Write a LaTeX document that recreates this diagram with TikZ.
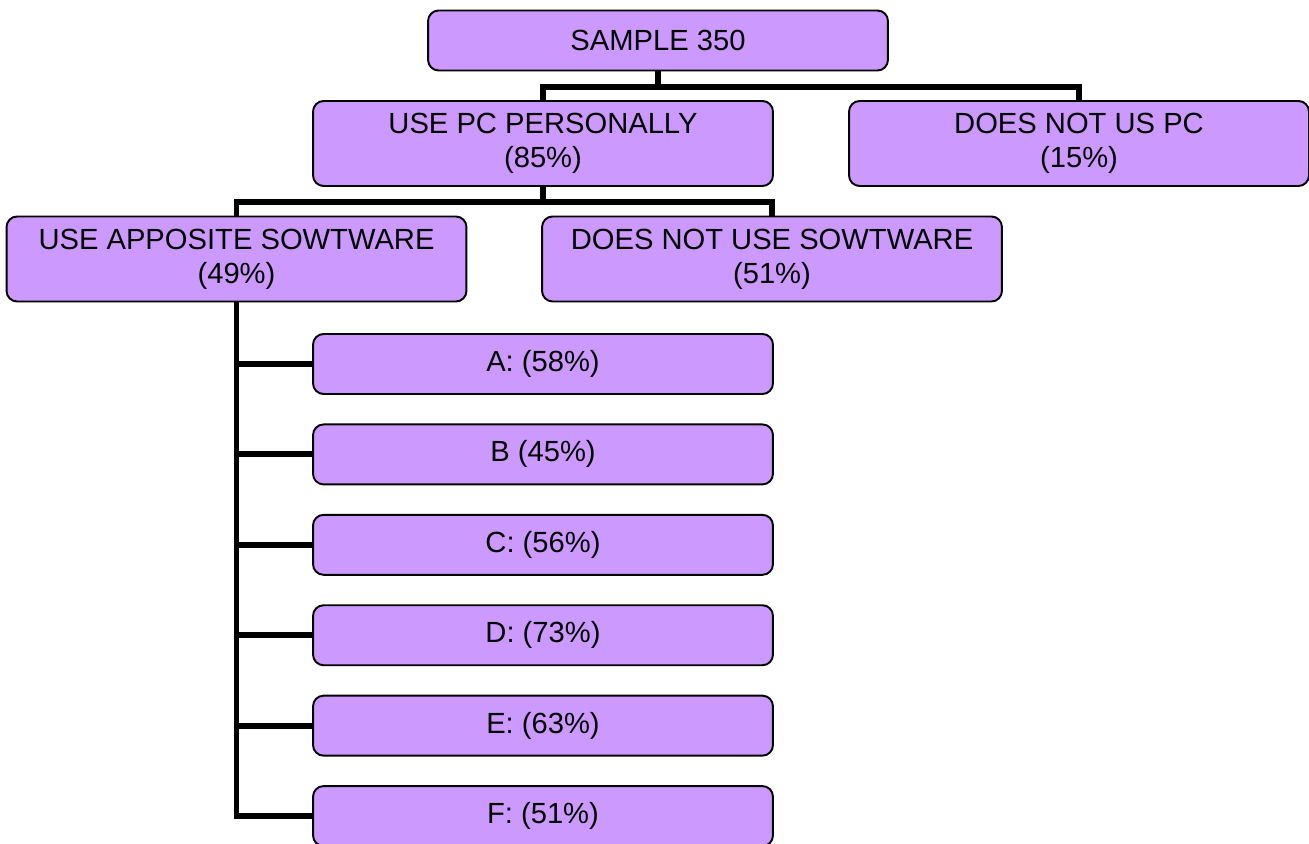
\documentclass[tikz,border=0pt]{standalone}
\usepackage{fontspec}
\setmainfont{Liberation Sans}
\usetikzlibrary{positioning}
\definecolor{lilac}{HTML}{CC99FF}

\begin{document}
\begin{tikzpicture}[x=0.02cm,y=-0.02cm,node distance=5.7mm,
  box/.style={draw=black,fill=lilac,line width=1.1pt,rounded corners=6pt,minimum width=9.2cm,
    minimum height=1.7cm,align=center,inner sep=2pt,font=\fontsize{16.6}{19.5}\selectfont},
  leaf/.style={box,minimum height=1.2cm},
  link/.style={line width=3.4pt}]
  \useasboundingbox (0,0) rectangle (1309,844);
  % top levels
  \node[leaf] (sample) at (658,40.5) {SAMPLE 350};
  \node[box] (pc) at (543,143.5) {USE PC PERSONALLY\\(85\%)};
  \node[box] (nopc) at (1079,143.5) {DOES NOT US PC\\(15\%)};
  \node[box] (soft) at (236.5,259) {USE APPOSITE SOWTWARE\\(49\%)};
  \node[box] (nosoft) at (772,259) {DOES NOT USE SOWTWARE\\(51\%)};
  % software list
  \node[leaf] (a) at (543,364) {A: (58\%)};
  \node[leaf,below=of a] (b) {B (45\%)};
  \node[leaf,below=of b] (c) {C: (56\%)};
  \node[leaf,below=of c] (d) {D: (73\%)};
  \node[leaf,below=of d] (e) {E: (63\%)};
  \node[leaf,below=of e] (f) {F: (51\%)};
  \coordinate (bus1) at (658,87);
  \coordinate (bus2) at (543,202);
  \draw[link] (sample) -- (bus1);
  \draw[link] (pc.north) |- (bus1) -| (nopc.north);
  \draw[link] (pc) -- (bus2);
  \draw[link] (soft.north) |- (bus2) -| (nosoft.north);
  \draw[link] (soft.south) |- (f.west);
  \draw[link] (soft.south |- a.west) -- (a.west);
  \draw[link] (soft.south |- b.west) -- (b.west);
  \draw[link] (soft.south |- c.west) -- (c.west);
  \draw[link] (soft.south |- d.west) -- (d.west);
  \draw[link] (soft.south |- e.west) -- (e.west);
\end{tikzpicture}
\end{document}
